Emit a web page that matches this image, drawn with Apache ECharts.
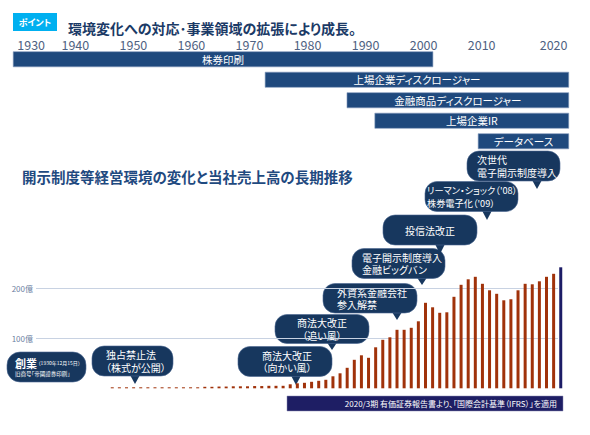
<!DOCTYPE html>
<html>
<head>
<meta charset="utf-8">
<script src="https://cdn.jsdelivr.net/npm/echarts@6/dist/echarts.min.js"></script>
<style>
html,body{margin:0;padding:0;background:#fff;}
#c{width:590px;height:435px;}
#c text{font-feature-settings:"palt" 1 !important;}
</style>
</head>
<body>
<div id="c"></div>
<script>
// ---- data ----
const fiscalYears = ['1957','1958','1959','1960','1961','1962','1963','1964','1965','1966','1967','1968','1969','1970','1971','1972','1973','1974','1975','1976','1977','1978','1979','1980','1981','1982','1983','1984','1985','1986','1987','1988','1989','1990','1991','1992','1993','1994','1995','1996','1997','1998','1999','2000','2001','2002','2003','2004','2005','2006','2007','2008','2009','2010','2011','2012','2013','2014','2015','2016','2017','2018','2019','2020'];
// 売上高（億円）
const sales = [2,2,2,2,2,2,2,2,2,2,2,2,2,
  3,3,3.5,3.5,4,4,4,4.5,4.5,5,5,
  5,8,10,11,13,15,17,24,30,41,
  57,66,61,82,97,102,117,117,121,134,
  171,162,151,152,183,207,218,223,209,196,
  189,176,178,196,209,208,214,223,229,
  242];
const ifrsYear = '2020';
const yTicksMax = 250;

const timelineLabels = ['株券印刷','上場企業ディスクロージャー','金融商品ディスクロージャー','上場企業IR','データベース'];
const timelineStart = [1929.3, 1972.7, 1986.8, 1991.6, 2009.4];
const timelineEnd   = [2001.6, 2025, 2025, 2025, 2025];

const calloutTexts = [
  '独占禁止法\n（株式が公開）',
  '商法大改正\n（向かい風）',
  '商法大改正\n（追い風）',
  '外資系金融会社\n参入解禁',
  '電子開示制度導入\n金融ビッグバン',
  '投信法改正',
  'リーマン・ショック（\'08）\n株券電子化（\'09）',
  '次世代\n電子開示制度導入'
];
const titleText = '環境変化への対応･事業領域の拡張により成長。';
const sectionText = '開示制度等経営環境の変化と当社売上高の長期推移';
const badgeText = 'ポイント';
const bannerText = '2020/3期 有価証券報告書より、「国際会計基準（IFRS）」を適用';

// ---- layout (pixels) ----
const FONT = "'Noto Sans CJK JP','Noto Sans',sans-serif";
const calloutLayout = [
  // x, y, w, h, tailX, tailTipY, align, textX, fontSize
  [92, 346, 81, 30, 135, 384, 'left', 106, 10],
  [238, 346.5, 94, 30, 296, 385, 'center', 287, 10],
  [275, 314.5, 94, 29, 332, 350, 'center', 322, 10],
  [323, 283.5, 94, 29.5, 397, 320, 'left', 337, 10],
  [352, 248.5, 93, 30, 422, 285, 'left', 362, 10],
  [383, 215, 94, 30, 440, 254, 'center', 430, 10],
  [425, 181.5, 93, 30, 487, 220, 'left', 427, 9.2],
  [467, 151, 93, 30, 537, 189, 'left', 477, 10]
];
const BUBBLE = '#17375e';

const graphics = [];
// badge
graphics.push({type:'rect', shape:{x:13,y:13,width:44,height:18}, style:{fill:'#00b0f0'}});
graphics.push({type:'text', style:{text:badgeText, x:35, y:22.5, textAlign:'center', textVerticalAlign:'middle', fill:'#fff', fontSize:9, fontWeight:'bold', fontFamily:FONT}});
// banner
graphics.push({type:'rect', shape:{x:287,y:396,width:276,height:15}, style:{fill:'#1e1e64', stroke:'#8a8ab0', lineWidth:0.5}});
graphics.push({type:'text', style:{text:bannerText, x:557, y:403.5, textAlign:'right', textVerticalAlign:'middle', fill:'#fff', fontSize:8, fontFamily:FONT}});
// founding bubble
graphics.push({type:'rect', shape:{x:7,y:352,width:79,height:30,r:13}, style:{fill:BUBBLE, stroke:'#4a6690', lineWidth:0.6}});
graphics.push({type:'text', style:{
  text:'{a|創業}{b| （1930年12月15日）}\n{c|旧商号「帝國證券印刷」}',
  x:15, y:367, textAlign:'left', textVerticalAlign:'middle', fill:'#fff', fontFamily:FONT,
  rich:{a:{fontSize:11, fontWeight:'bold', fill:'#fff', lineHeight:13, fontFamily:FONT},
        b:{fontSize:5, fill:'#fff', lineHeight:13, fontFamily:FONT},
        c:{fontSize:5.5, fill:'#fff', lineHeight:9, fontFamily:FONT}}
}});
calloutTexts.forEach(function(t, i){
  const L = calloutLayout[i];
  const x=L[0], y=L[1], w=L[2], h=L[3], tx=L[4], tip=L[5];
  graphics.push({type:'polygon', shape:{points:[[tx-5,y+h-1],[tx+5,y+h-1],[tx,tip]]}, style:{fill:BUBBLE}});
  graphics.push({type:'rect', shape:{x:x,y:y,width:w,height:h,r:12}, style:{fill:BUBBLE, stroke:'#4a6690', lineWidth:0.6}});
  graphics.push({type:'text', style:{text:t, x:L[7], y:y+h/2, textAlign:L[6], textVerticalAlign:'middle', fill:'#fff', fontSize:L[8], lineHeight:12.5, fontFamily:FONT}});
});

const chart = echarts.init(document.getElementById('c'), null, {renderer:'svg'});
chart.setOption({
  animation:false,
  backgroundColor:'#fff',
  textStyle:{fontFamily:FONT},
  title:[
    {text:titleText, left:63, top:15, textStyle:{fontSize:14, fontWeight:'bold', color:'#1b3a66', lineHeight:15, fontFamily:FONT}},
    {text:sectionText, left:17, top:162, textStyle:{fontSize:14.5, fontWeight:'bold', color:'#1f4a80', lineHeight:18, fontFamily:FONT}}
  ],
  grid:[
    {left:36, right:32, top:263.3, bottom:46.7},
    {left:108.7, right:25.7, top:263.3, bottom:46.7},
    {left:17.3, right:50.3, top:49, height:102.5}
  ],
  xAxis:[
    {gridIndex:0, type:'value', min:0, max:1, show:false},
    {gridIndex:1, type:'category', data:fiscalYears, show:false},
    {gridIndex:2, type:'value', min:1930, max:2020, interval:10, position:'top',
     axisLine:{show:false}, axisTick:{show:false}, splitLine:{show:false},
     axisLabel:{color:'#4f6282', fontSize:12.5, lineHeight:12, margin:-1, fontFamily:FONT,
       alignMinLabel:'left', alignMaxLabel:'left',
       formatter:function(v){return String(v);}}}
  ],
  yAxis:[
    {gridIndex:0, type:'value', min:0, max:yTicksMax, interval:100,
     axisLine:{show:false}, axisTick:{show:false},
     splitLine:{show:true, showMinLine:false, showMaxLine:false, lineStyle:{color:'#c8d2e2', width:1}},
     axisLabel:{formatter:'{value}億', showMinLabel:false, showMaxLabel:false, fontSize:8, color:'#6c80a2', margin:3, fontFamily:FONT}},
    {gridIndex:1, type:'value', min:0, max:yTicksMax, show:false},
    {gridIndex:2, type:'category', data:timelineLabels, inverse:true, show:false}
  ],
  series:[
    {type:'bar', xAxisIndex:1, yAxisIndex:1, data:sales, barWidth:3,
     itemStyle:{color:function(p){return p.name===ifrsYear ? '#1c1c66' : '#a0320a';}}},
    {type:'custom', xAxisIndex:2, yAxisIndex:2, clip:false,
     encode:{x:[0,1], y:2},
     data:timelineLabels.map(function(l,i){return [timelineStart[i], timelineEnd[i], i, l];}),
     renderItem:function(params, api){
       const s = api.coord([api.value(0), api.value(2)]);
       const e = api.coord([api.value(1), api.value(2)]);
       const h = api.size([0,1])[1]*0.74;
       return {type:'rect', shape:{x:s[0], y:s[1]-h/2, width:e[0]-s[0], height:h},
         style:{fill:'#1f497d', stroke:'#7f97bb', lineWidth:0.6},
         textContent:{style:{text:api.value(3), fill:'#fff', fontSize:10.5, fontFamily:FONT}},
         textConfig:{position:'inside'}};
     }}
  ],
  graphic:graphics
});
</script>
</body>
</html>
